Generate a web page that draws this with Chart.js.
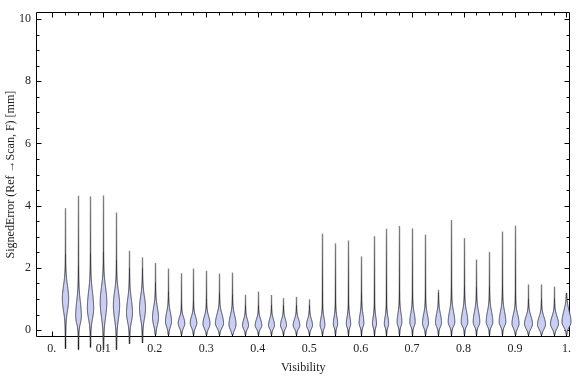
<!DOCTYPE html>
<html><head><meta charset="utf-8">
<script src="https://cdn.jsdelivr.net/npm/chart.js@4.4.1/dist/chart.umd.min.js"></script>
<style>html,body{margin:0;padding:0;background:#fff;}#wrap{width:576px;height:377px;}</style>
</head><body><div id="wrap"><canvas id="c" width="576" height="377"></canvas></div>
<script>
// ---- data ----
const visibility = [0.025,0.05,0.075,0.1,0.125,0.15,0.175,0.2,0.225,0.25,0.275,0.3,0.325,0.35,0.375,0.4,0.425,0.45,0.475,0.5,0.525,0.55,0.575,0.6,0.625,0.65,0.675,0.7,0.725,0.75,0.775,0.8,0.825,0.85,0.875,0.9,0.925,0.95,0.975,1.0];
const errMax = [3.92,4.32,4.30,4.33,3.78,2.55,2.34,2.16,1.98,1.83,1.98,1.91,1.82,1.85,1.14,1.24,1.13,1.03,1.07,0.99,3.10,2.79,2.88,2.37,3.02,3.26,3.35,3.27,3.07,1.30,3.54,2.96,2.27,2.51,3.17,3.36,1.47,1.47,1.40,1.19];
const errMin = [-0.60,-0.63,-0.56,-0.63,-0.63,-0.44,-0.41,-0.15,-0.15,-0.15,-0.15,-0.15,-0.15,-0.15,-0.15,-0.15,-0.15,-0.15,-0.15,-0.15,-0.15,-0.15,-0.15,-0.15,-0.15,-0.15,-0.15,-0.15,-0.15,-0.15,-0.15,-0.15,-0.15,-0.15,-0.15,-0.15,-0.15,-0.15,-0.15,-0.15];
const errMode = [1.0,0.45,0.7,0.9,0.8,0.55,0.7,0.4,0.28,0.22,0.23,0.2,0.22,0.18,0.15,0.16,0.16,0.16,0.16,0.16,0.16,0.2,0.2,0.22,0.2,0.2,0.26,0.26,0.22,0.24,0.26,0.26,0.26,0.26,0.26,0.21,0.2,0.18,0.2,0.26];
const peakDensity = [1.05,0.95,1.05,1.1,1.05,1.0,1.0,1.0,1.0,1.1,1.1,1.17,1.35,1.17,1.0,1.1,1.0,1.0,1.1,1.0,0.8,0.72,0.72,0.8,0.67,0.72,0.8,0.9,1.0,1.0,1.1,1.1,1.1,1.1,1.1,1.17,1.33,1.33,1.33,1.5];
const spreadBelow = [0.4,0.25,0.35,0.5,0.45,0.3,0.35,0.25,0.18,0.15,0.15,0.15,0.15,0.17,0.12,0.12,0.12,0.12,0.12,0.12,0.12,0.12,0.12,0.12,0.12,0.12,0.14,0.14,0.14,0.14,0.14,0.14,0.14,0.14,0.14,0.15,0.15,0.15,0.15,0.16];
const spreadAbove = [0.45,0.5,0.55,0.5,0.45,0.45,0.4,0.35,0.3,0.2,0.22,0.25,0.3,0.3,0.2,0.2,0.2,0.2,0.2,0.2,0.25,0.25,0.25,0.3,0.25,0.25,0.3,0.3,0.3,0.3,0.35,0.35,0.35,0.35,0.35,0.3,0.25,0.25,0.25,0.35];
const xTickValues = [0,0.1,0.2,0.3,0.4,0.5,0.6,0.7,0.8,0.9,1.0];
const xTickLabels = ["0.","0.1","0.2","0.3","0.4","0.5","0.6","0.7","0.8","0.9","1."];
const yTickValues = [0,2,4,6,8,10];
const yTickLabels = ["0","2","4","6","8","10"];

// ---- style ----
const DENSITY_PX = 3;
const FONT = {family:"'Liberation Serif','Times New Roman',serif", size:12};
const TEXT = '#222';

const framePlugin = {
  id:'frame',
  afterDraw(chart){
    const {ctx, chartArea:a, scales:{x,y}} = chart;
    ctx.save();
    ctx.strokeStyle = '#000'; ctx.lineWidth = 1;
    const L = Math.round(a.left)+0.5, R = Math.round(a.right)-0.5, T = Math.round(a.top)+0.5, B = Math.round(a.bottom)-0.5;
    ctx.beginPath(); ctx.rect(L, T, R-L, B-T); ctx.stroke();
    ctx.beginPath();
    for (let k=0;k<=40;k++){
      const v = k*0.025; const px = Math.round(x.getPixelForValue(v))+0.5;
      const len = (k%4===0)?5:3;
      ctx.moveTo(px,B); ctx.lineTo(px,B-len);
      ctx.moveTo(px,T); ctx.lineTo(px,T+len);
    }
    for (let k=0;k<=20;k++){
      const v = k*0.5; const py = Math.round(y.getPixelForValue(v))+0.5;
      const len = (k%4===0)?5:3;
      ctx.moveTo(L,py); ctx.lineTo(L+len,py);
      ctx.moveTo(R,py); ctx.lineTo(R-len,py);
    }
    ctx.stroke();
    ctx.restore();
  }
};

const violinPlugin = {
  id:'violins',
  afterDraw(chart){
    const {ctx, scales:{x, y}} = chart;
    ctx.save();
    for (let i=0;i<visibility.length;i++){
      const cx = Math.round(x.getPixelForValue(visibility[i]))+0.5;
      const top = y.getPixelForValue(errMax[i]);
      const bot = y.getPixelForValue(errMin[i]);
      const g = ctx.createLinearGradient(0, top, 0, bot);
      g.addColorStop(0,'rgba(125,125,125,0.95)');
      g.addColorStop(0.7,'rgba(45,45,45,1)');
      g.addColorStop(1,'rgba(25,25,25,1)');
      ctx.strokeStyle = g; ctx.lineWidth = 1.4;
      ctx.beginPath(); ctx.moveTo(cx, top); ctx.lineTo(cx, bot); ctx.stroke();
      const hw = peakDensity[i]*DENSITY_PX;
      const lo = Math.max(errMin[i], errMode[i]-3.2*spreadBelow[i]);
      const hi = Math.min(errMax[i], errMode[i]+3.2*spreadAbove[i]);
      const pTop = y.getPixelForValue(hi), pBot = y.getPixelForValue(lo);
      const pts = [];
      for (let py=pTop; py<=pBot+0.01; py+=0.5){
        const d = y.getValueForPixel(py) - errMode[i];
        const s = d<0 ? spreadBelow[i] : spreadAbove[i];
        pts.push([py, hw*Math.exp(-0.5*(d/s)*(d/s))]);
      }
      ctx.beginPath();
      pts.forEach(([py,w],k)=>{ if(k===0) ctx.moveTo(cx+w,py); else ctx.lineTo(cx+w,py); });
      for (let k=pts.length-1;k>=0;k--) ctx.lineTo(cx-pts[k][1], pts[k][0]);
      ctx.closePath();
      ctx.fillStyle = 'rgb(200,206,244)'; ctx.fill();
      ctx.strokeStyle = 'rgba(55,55,65,0.9)'; ctx.lineWidth = 1; ctx.stroke();
    }
    ctx.restore();
  }
};

new Chart(document.getElementById('c'), {
  type:'scatter',
  data:{ datasets:[{ data: visibility.map((v,i)=>({x:v, y:errMax[i]})), pointRadius:0, showLine:false }] },
  options:{
    responsive:false, animation:false, devicePixelRatio:1,
    layout:{padding:{top:4,right:1,left:0,bottom:0}},
    plugins:{legend:{display:false}, tooltip:{enabled:false}},
    scales:{
      x:{ type:'linear', min:-0.0308, max:1.0077,
          afterBuildTicks:s=>{ s.ticks = xTickValues.map(v=>({value:v})); },
          afterFit:s=>{ s.height = 40; },
          ticks:{ callback:(v,i)=>xTickLabels[i], autoSkip:false, maxRotation:0, padding:5, font:FONT, color:TEXT },
          grid:{display:false, drawTicks:false}, border:{display:false},
          title:{display:true, text:'Visibility', font:FONT, color:TEXT, padding:{top:0,bottom:2}} },
      y:{ type:'linear', min:-0.22, max:10.22,
          afterBuildTicks:s=>{ s.ticks = yTickValues.map(v=>({value:v})); },
          afterFit:s=>{ s.width = 36; },
          ticks:{ callback:(v,i)=>yTickLabels[i], padding:5, font:FONT, color:TEXT },
          grid:{display:false, drawTicks:false}, border:{display:false},
          title:{display:true, text:'SignedError (Ref →Scan, F) [mm]', font:FONT, color:TEXT, padding:{top:4,bottom:0}} }
    }
  },
  plugins:[framePlugin, violinPlugin]
});
</script></body></html>
